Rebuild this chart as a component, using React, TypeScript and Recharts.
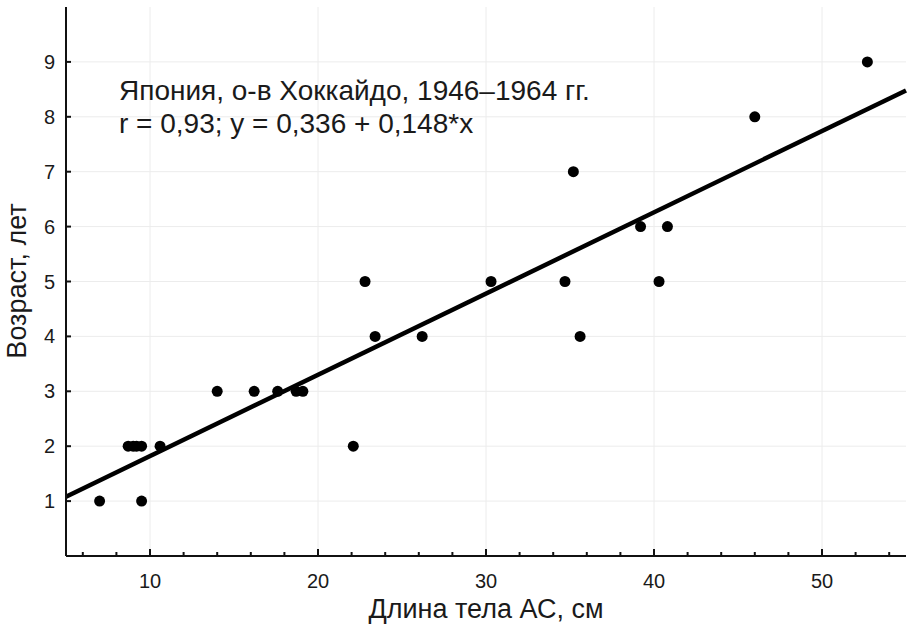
import React from "react";
import {
  ScatterChart,
  Scatter,
  XAxis,
  YAxis,
  CartesianGrid,
  ReferenceLine,
  Label,
} from "recharts";

// length (cm) and age (years)
const lengths = [
  7.0, 9.5, 8.7, 9.0, 9.2, 9.5, 10.6, 22.1, 14.0, 16.2, 17.6, 18.7, 19.1,
  23.4, 26.2, 35.6, 22.8, 30.3, 34.7, 40.3, 39.2, 40.8, 35.2, 46.0, 52.7,
];
const ages = [
  1, 1, 2, 2, 2, 2, 2, 2, 3, 3, 3, 3, 3, 4, 4, 4, 5, 5, 5, 5, 6, 6, 7, 8, 9,
];
const xTicks = [6, 8, 10, 12, 14, 16, 18, 20, 22, 24, 26, 28, 30, 32, 34, 36, 38, 40, 42, 44, 46, 48, 50, 52, 54];
const yTicks = [1, 2, 3, 4, 5, 6, 7, 8, 9];
const xMajor = [10, 20, 30, 40, 50];
// regression line ends, as drawn
const fitLine = [
  { x: 5, y: 1.08 },
  { x: 55, y: 8.48 },
];

const points = lengths.map((l, i) => ({ x: l, y: ages[i] }));

const INK = "#111";
const FONT = "'Liberation Sans', Arial, sans-serif";

const BottomTick = (props: any) => {
  const { x, y, payload } = props;
  const major = payload.value % 10 === 0;
  return (
    <g>
      <line x1={x} x2={x} y1={y} y2={y - (major ? 7 : 4)} stroke={INK} strokeWidth={2} />
      {major && (
        <text x={x} y={y + 32} textAnchor="middle" fontSize={20} fill="#1a1a1a" fontFamily={FONT}>
          {payload.value}
        </text>
      )}
    </g>
  );
};

const TopTick = (props: any) => {
  const { x, y, payload } = props;
  const major = payload.value % 10 === 0;
  return <line x1={x} x2={x} y1={y} y2={y + (major ? 7 : 4)} stroke={INK} strokeWidth={2} />;
};

const LeftTick = (props: any) => {
  const { x, y, payload } = props;
  return (
    <g>
      <line x1={x} x2={x + 5} y1={y} y2={y} stroke={INK} strokeWidth={2} />
      <text x={x - 11} y={y + 7} textAnchor="end" fontSize={20} fill="#1a1a1a" fontFamily={FONT}>
        {payload.value}
      </text>
    </g>
  );
};

const RightTick = (props: any) => {
  const { x, y } = props;
  return <line x1={x} x2={x - 5} y1={y} y2={y} stroke={INK} strokeWidth={2} />;
};

export default function App() {
  return (
    <div style={{ position: "absolute", left: 0, top: 0, width: 907, height: 626, background: "#fff" }}>
      <ScatterChart width={907} height={626} margin={{ top: 7, right: 1, bottom: 0, left: 0 }}>
        <CartesianGrid
          stroke="#ececec"
          strokeWidth={1}
          verticalValues={xMajor}
          horizontalValues={yTicks}
        />
        <XAxis
          type="number"
          dataKey="x"
          domain={[5, 55]}
          ticks={xTicks}
          interval={0}
          height={70}
          tickSize={0}
          tickMargin={0}
          tickLine={false}
          tick={<BottomTick />}
          axisLine={{ stroke: INK, strokeWidth: 2 }}
        >
          <Label
            value="Длина тела АС, см"
            position="insideBottom"
            offset={8}
            fontSize={27}
            fill="#1a1a1a"
            fontFamily={FONT}
          />
        </XAxis>
        <XAxis
          xAxisId="top"
          orientation="top"
          type="number"
          domain={[5, 55]}
          ticks={xTicks}
          interval={0}
          height={0}
          tickSize={0}
          tickMargin={0}
          tickLine={false}
          tick={<TopTick />}
          allowDataOverflow
          axisLine={{ stroke: INK, strokeWidth: 2 }}
        />
        <YAxis
          type="number"
          dataKey="y"
          domain={[0, 10]}
          ticks={yTicks}
          interval={0}
          width={66}
          tickSize={0}
          tickMargin={0}
          tickLine={false}
          tick={<LeftTick />}
          axisLine={{ stroke: INK, strokeWidth: 2 }}
        >
          <Label
            content={() => (
              <text
                x={17}
                y={281}
                transform="rotate(-90 17 281)"
                textAnchor="middle"
                dominantBaseline="central"
                fontSize={27}
                fill="#1a1a1a"
                fontFamily={FONT}
              >
                Возраст, лет
              </text>
            )}
          />
        </YAxis>
        <YAxis
          yAxisId="right"
          orientation="right"
          type="number"
          domain={[0, 10]}
          ticks={yTicks}
          interval={0}
          width={0}
          tickSize={0}
          tickMargin={0}
          tickLine={false}
          tick={<RightTick />}
          allowDataOverflow
          axisLine={{ stroke: INK, strokeWidth: 2 }}
        />
        <ReferenceLine
          segment={fitLine}
          stroke="#000"
          strokeWidth={4.5}
          ifOverflow="visible"
        />
        <Scatter
          data={points}
          fill="#000"
          isAnimationActive={false}
          shape={(p: any) => <circle cx={p.cx} cy={p.cy} r={5.5} fill="#000" />}
        />
      </ScatterChart>
      <div
        style={{
          position: "absolute",
          left: 119,
          top: 74,
          fontFamily: FONT,
          fontSize: 28,
          lineHeight: "33px",
          color: "#1a1a1a",
          whiteSpace: "nowrap",
        }}
      >
        <div>Япония, о-в Хоккайдо, 1946–1964 гг.</div>
        <div>r = 0,93; y = 0,336 + 0,148*x</div>
      </div>
    </div>
  );
}
